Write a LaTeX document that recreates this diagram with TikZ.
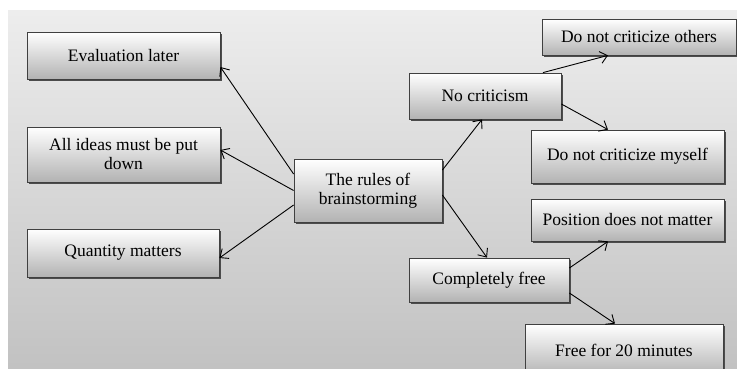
\documentclass[tikz,border=0pt]{standalone}
\usepackage{fontspec}
\setmainfont{Liberation Serif}
\usetikzlibrary{arrows.meta,shadows}

\begin{document}
\begin{tikzpicture}[x=1pt,y=-1pt,->,>={Straight Barb[length=7pt,width=12pt]},line width=0.9pt,
    rule/.style={draw=black!75,line width=0.8pt,top color=white,bottom color=black!30,
      align=center,inner sep=2pt,font=\fontsize{17.5}{19}\selectfont,
      drop shadow={shadow xshift=1.5pt,shadow yshift=-1.5pt,fill=black!70,opacity=1}}]

  \useasboundingbox (0,0) rectangle (737,368);
  \fill[white] (0,0) rectangle (737,368);
  \shade[top color=black!7,bottom color=black!24] (8,10) rectangle (737,368);

  \node[rule,minimum width=193pt,minimum height=47pt] (ev) at (123.5,55.5) {Evaluation later};
  \node[rule,minimum width=193pt,minimum height=55pt] (al) at (123.5,154.5) {All ideas must be put\\down};
  \node[rule,minimum width=192pt,minimum height=48pt] (qu) at (123,253)    {Quantity matters};
  \node[rule,minimum width=148pt,minimum height=63pt] (ru) at (368,190.5)  {The rules of\\brainstorming};
  \node[rule,minimum width=152pt,minimum height=46pt] (nc) at (485,96)     {No criticism};
  \node[rule,minimum width=194pt,minimum height=36pt] (ot) at (639,37)     {Do not criticize others};
  \node[rule,minimum width=193pt,minimum height=53pt] (my) at (627.5,156.5) {Do not criticize myself};
  \node[rule,minimum width=193pt,minimum height=42pt] (po) at (627.5,220)  {Position does not matter};
  \node[rule,minimum width=160pt,minimum height=44pt] (cf) at (489,280)    {Completely free};
  \node[rule,minimum width=198pt,minimum height=52pt] (fr) at (624,350)    {Free for 20 minutes};

  \path ([yshift=16.5pt]ru.west) edge ([yshift=-11.5pt]ev.east);
  \path ([yshift=0pt]ru.west)    edge ([yshift=4.5pt]al.east);
  \path ([yshift=-14.5pt]ru.west) edge ([yshift=-5pt]qu.east);
  \path ([yshift=20.5pt]ru.east) edge ([xshift=-3pt]nc.south);
  \path ([yshift=-4.5pt]ru.east) edge ([xshift=-2pt]cf.north);
  \path ([xshift=58pt]nc.north)  edge ([xshift=-31pt]ot.south);
  \path ([yshift=-8pt]nc.east)   edge ([xshift=-19.5pt]my.north);
  \path ([yshift=12pt]cf.east)   edge ([xshift=-19.5pt]po.south);
  \path ([yshift=-13pt]cf.east)  edge ([xshift=-9pt]fr.north);
\end{tikzpicture}
\end{document}
